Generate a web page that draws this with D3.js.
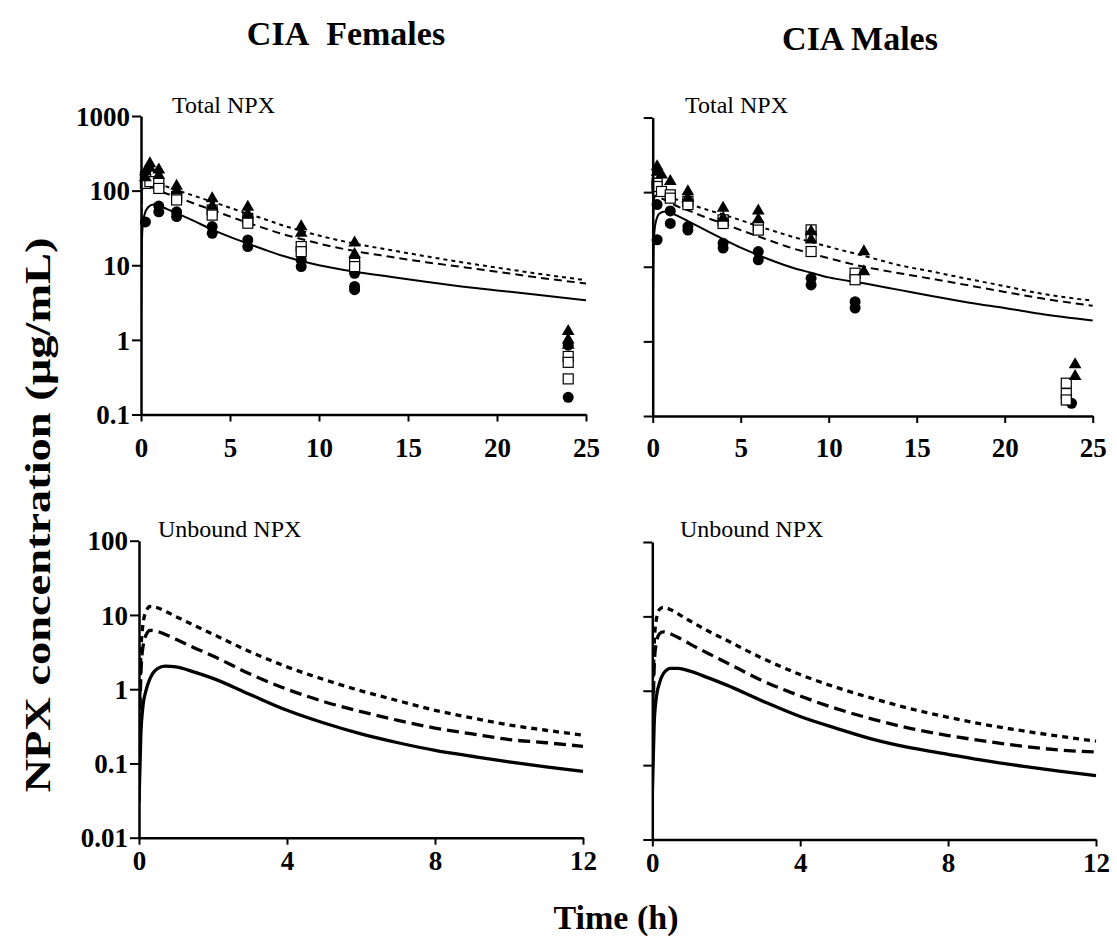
<!DOCTYPE html>
<html>
<head>
<meta charset="utf-8">
<title>NPX concentration</title>
<script src="https://cdn.jsdelivr.net/npm/d3@7"></script>
<style>
  body { margin: 0; background: #fff; }
  svg { display: block; }
</style>
</head>
<body>
<script>
// model time grids (h)
var totalTimes = [0, 0.05, 0.1, 0.2, 0.4, 0.7, 1, 1.5, 2, 3, 4, 5, 6, 7, 8, 9, 10, 12, 14, 16, 18, 20, 22, 25];
var unboundTimes = [0, 0.05, 0.1, 0.2, 0.3, 0.5, 0.7, 1, 1.5, 2, 3, 4, 5, 6, 7, 8, 9, 10, 11, 12];

// model curves, total NPX (ug/mL)
var femTotalLow = [2, 20, 35, 48, 60, 65, 63, 56, 50, 39, 30, 24, 19.5, 16, 13.3, 11.4, 10, 8.2, 7.0, 6.0, 5.2, 4.6, 4.1, 3.4];
var femTotalMid = [20, 90, 115, 120, 115, 108, 100, 90, 82, 67, 55, 45, 37, 31, 26, 22.5, 19.5, 15.5, 13, 11, 9.5, 8.2, 7.0, 5.7];
var femTotalHigh = [25, 110, 135, 145, 140, 132, 125, 112, 102, 85, 71, 59, 49, 41, 34, 29, 25, 19.5, 16, 13.2, 11, 9.3, 7.9, 6.3];
var maleTotalLow = [2, 18, 30, 42, 52, 55, 53, 47, 41, 31, 23.5, 18, 14.3, 11.6, 9.6, 8.3, 7.2, 6.0, 4.9, 4.0, 3.3, 2.8, 2.35, 1.9];
var maleTotalMid = [15, 70, 85, 90, 85, 78, 72, 63, 57, 46, 38, 31, 25.5, 21, 17.5, 15, 13, 10, 8.2, 6.8, 5.6, 4.6, 3.8, 3.0];
var maleTotalHigh = [18, 85, 105, 110, 104, 96, 88, 77, 70, 59, 50, 42, 35, 29.5, 25, 21.5, 18.5, 14, 10.5, 8.5, 6.8, 5.5, 4.4, 3.5];

// model curves, unbound NPX (ug/mL)
var femUnbLow = [0.03, 0.25, 0.55, 1.0, 1.4, 1.9, 2.05, 2.0, 1.7, 1.4, 0.85, 0.52, 0.35, 0.25, 0.19, 0.15, 0.125, 0.105, 0.09, 0.078];
var femUnbMid = [0.1, 1.5, 3.5, 5.5, 6.2, 6.0, 5.5, 4.7, 3.6, 2.8, 1.6, 1.0, 0.68, 0.5, 0.38, 0.3, 0.25, 0.21, 0.19, 0.17];
var femUnbHigh = [0.2, 3, 7, 11.5, 13, 12.5, 11.3, 9.5, 7.2, 5.5, 3.2, 2.0, 1.35, 0.95, 0.7, 0.52, 0.41, 0.33, 0.28, 0.24];
var maleUnbLow = [0.04, 0.35, 0.75, 1.3, 1.7, 2.0, 2.0, 1.85, 1.5, 1.2, 0.72, 0.45, 0.31, 0.22, 0.17, 0.14, 0.115, 0.097, 0.083, 0.072];
var maleUnbMid = [0.1, 2, 4.2, 5.9, 6.2, 5.8, 5.2, 4.3, 3.2, 2.4, 1.35, 0.85, 0.57, 0.41, 0.31, 0.25, 0.21, 0.18, 0.16, 0.15];
var maleUnbHigh = [0.2, 4, 8.5, 12.5, 13.2, 12.3, 10.8, 8.8, 6.4, 4.8, 2.7, 1.65, 1.1, 0.78, 0.57, 0.44, 0.35, 0.29, 0.245, 0.21];

// observed total NPX [time, conc]
var femLowObs = [[0.25, 38], [1, 62], [1, 52], [2, 52], [2, 45], [4, 33], [4, 26.8], [6, 21.8], [6, 17.8], [9, 11.7], [9, 9.6], [12, 7.8], [12, 5.2], [12, 4.7], [24, 0.85], [24, 0.17]];
var femMidObs = [[0.25, 154], [0.25, 125], [0.5, 132], [1, 125], [1, 107], [2, 83], [2, 75], [4, 55], [4, 47], [6, 42.5], [6, 36.6], [9, 17.8], [9, 15.2], [12, 10.6], [12, 9.6], [24, 0.6], [24, 0.5], [24, 0.3]];
var femHighObs = [[0.25, 180], [0.25, 150], [0.5, 230], [0.5, 200], [1, 190], [1, 160], [2, 115], [2, 100], [4, 78], [4, 62], [6, 60], [6, 48], [9, 33], [9, 27], [12, 20], [12, 14], [24, 1.3], [24, 1.0], [24, 0.85]];
var maleLowObs = [[0.25, 68], [0.25, 23], [1, 56], [1, 38], [2, 34.6], [2, 31], [4, 20.7], [4, 17.8], [6, 16], [6, 12.4], [9, 7.0], [9, 5.7], [11.5, 3.4], [11.5, 2.8], [23.8, 0.148]];
var maleMidObs = [[0.25, 132], [0.25, 119], [0.5, 102], [1, 92], [1, 83], [2, 75], [2, 68], [4, 42.5], [4, 38], [6, 34.6], [6, 31], [9, 31.2], [9, 25.4], [9, 16], [11.5, 8.2], [11.5, 6.7], [23.5, 0.275], [23.5, 0.2], [23.5, 0.164]];
var maleHighObs = [[0.25, 220], [0.25, 185], [0.5, 170], [1, 139], [2, 102], [2, 83], [4, 61], [4, 45], [6, 56], [6, 43], [9, 29.6], [9, 23], [12, 16], [12, 8.6], [24, 0.49], [24, 0.34]];

// tick values
var totalXTicks = [0, 5, 10, 15, 20, 25];
var unboundXTicks = [0, 4, 8, 12];
var totalYTicks = [0.1, 1, 10, 100, 1000];
var unboundYTicks = [0.01, 0.1, 1, 10, 100];

var serif = "'Liberation Serif', 'Times New Roman', serif";

var svg = d3.select("body").append("svg")
    .attr("width", 1117)
    .attr("height", 952)
    .style("background", "#fff");

// panel layout
var panels = [
    {x: [141, 586], y: [414.5, 116], xdom: [0, 25], ydom: [0.1, 1000], xt: totalXTicks, yt: totalYTicks, labels: true,
     label: "Total NPX", lx: 172, ly: 113, times: totalTimes, curves: [femTotalLow, femTotalMid, femTotalHigh],
     obs: [femLowObs, femMidObs, femHighObs], xlab: 457, lw: 2, dash: [null, "8,5", "4,4"]},
    {x: [652.7, 1092.7], y: [416, 117.5], xdom: [0, 25], ydom: [0.1, 1000], xt: totalXTicks, yt: totalYTicks, labels: false,
     label: "Total NPX", lx: 685, ly: 113, times: totalTimes, curves: [maleTotalLow, maleTotalMid, maleTotalHigh],
     obs: [maleLowObs, maleMidObs, maleHighObs], xlab: 457, lw: 2, dash: [null, "8,5", "4,4"]},
    {x: [139, 583], y: [837.7, 540.7], xdom: [0, 12], ydom: [0.01, 100], xt: unboundXTicks, yt: unboundYTicks, labels: true,
     label: "Unbound NPX", lx: 158, ly: 537, times: unboundTimes, curves: [femUnbLow, femUnbMid, femUnbHigh],
     obs: [], xlab: 870, lw: 3.3, dash: [null, "12,6", "6,5"]},
    {x: [652.3, 1096], y: [839.5, 542], xdom: [0, 12], ydom: [0.01, 100], xt: unboundXTicks, yt: unboundYTicks, labels: false,
     label: "Unbound NPX", lx: 680, ly: 537, times: unboundTimes, curves: [maleUnbLow, maleUnbMid, maleUnbHigh],
     obs: [], xlab: 872, lw: 3.3, dash: [null, "12,6", "6,5"]}
];

var fmt = function(d) { return d3.format("~g")(d); };

panels.forEach(function(p, pi) {
    var xscale = d3.scaleLinear().domain(p.xdom).range(p.x);
    var yscale = d3.scaleLog().domain(p.ydom).range(p.y);
    var g = svg.append("g");

    // clip for curves
    var clipId = "clip" + pi;
    svg.append("clipPath").attr("id", clipId)
        .append("rect")
        .attr("x", p.x[0]).attr("y", p.y[1] - 2)
        .attr("width", p.x[1] - p.x[0] + 2).attr("height", p.y[0] - p.y[1] + 2);

    // model lines (solid = low, dashed = mid, short dash = high)
    var line = d3.line()
        .x(function(d) { return xscale(d[0]); })
        .y(function(d) { return yscale(d[1]); })
        .curve(d3.curveMonotoneX);
    p.curves.forEach(function(c, ci) {
        var pts = p.times.map(function(t, i) { return [t, c[i]]; });
        g.append("path")
            .attr("clip-path", "url(#" + clipId + ")")
            .attr("d", line(pts))
            .attr("fill", "none")
            .attr("stroke", "#000")
            .attr("stroke-width", p.lw)
            .attr("stroke-dasharray", p.dash[ci]);
    });

    // observed points: circles, open squares, triangles
    if (p.obs.length) {
        g.selectAll("circle.obs").data(p.obs[0]).enter().append("circle")
            .attr("class", "obs")
            .attr("cx", function(d) { return xscale(d[0]); })
            .attr("cy", function(d) { return yscale(d[1]); })
            .attr("r", 5.5)
            .attr("fill", "#000");
        g.selectAll("rect.obs").data(p.obs[1]).enter().append("rect")
            .attr("class", "obs")
            .attr("x", function(d) { return xscale(d[0]) - 5; })
            .attr("y", function(d) { return yscale(d[1]) - 5; })
            .attr("width", 10).attr("height", 10)
            .attr("fill", "#fff")
            .attr("stroke", "#000")
            .attr("stroke-width", 1.2);
        var tri = d3.symbol().type(d3.symbolTriangle).size(70);
        g.selectAll("path.obs").data(p.obs[2]).enter().append("path")
            .attr("class", "obs")
            .attr("d", tri)
            .attr("transform", function(d) { return "translate(" + xscale(d[0]) + "," + yscale(d[1]) + ")"; })
            .attr("fill", "#000");
    }

    // axes
    var yAxis = d3.axisLeft(yscale).tickValues(p.yt).tickSize(9).tickSizeOuter(0)
        .tickFormat(p.labels ? fmt : "");
    var ya = g.append("g").attr("transform", "translate(" + p.x[0] + ",0)").call(yAxis);

    var xAxis = d3.axisBottom(xscale).tickValues(p.xt).tickSize(7).tickSizeOuter(0).tickFormat(fmt);
    var xa = g.append("g").attr("transform", "translate(0," + p.y[0] + ")").call(xAxis);

    [ya, xa].forEach(function(a) {
        a.select(".domain").attr("stroke", "#000").attr("stroke-width", 2.5);
        a.selectAll(".tick line").attr("stroke", "#000").attr("stroke-width", 2);
        a.selectAll("text")
            .attr("font-family", serif)
            .attr("font-weight", "bold")
            .attr("font-size", "27px")
            .attr("fill", "#000");
    });
    ya.selectAll("text").attr("x", -11).attr("dy", "0.34em");
    xa.selectAll("text").attr("y", p.xlab - p.y[0]).attr("dy", 0);

    // panel label
    svg.append("text")
        .text(p.label)
        .attr("x", p.lx).attr("y", p.ly)
        .attr("font-family", serif).attr("font-size", "24px").attr("fill", "#000");
});

// column titles
svg.append("text").text("CIA\u00a0\u00a0Females")
    .attr("x", 346).attr("y", 45)
    .attr("text-anchor", "middle")
    .attr("font-family", serif).attr("font-weight", "bold").attr("font-size", "34px");
svg.append("text").text("CIA Males")
    .attr("x", 860).attr("y", 50)
    .attr("text-anchor", "middle")
    .attr("font-family", serif).attr("font-weight", "bold").attr("font-size", "34px");

// axis titles
svg.append("text").text("NPX concentration (\u00b5g/mL)")
    .attr("transform", "translate(50,515) rotate(-90)")
    .attr("text-anchor", "middle")
    .attr("textLength", 555).attr("lengthAdjust", "spacingAndGlyphs")
    .attr("font-family", serif).attr("font-weight", "bold").attr("font-size", "36px");
svg.append("text").text("Time (h)")
    .attr("x", 616).attr("y", 929)
    .attr("text-anchor", "middle")
    .attr("font-family", serif).attr("font-weight", "bold").attr("font-size", "34px");
</script>
</body>
</html>
